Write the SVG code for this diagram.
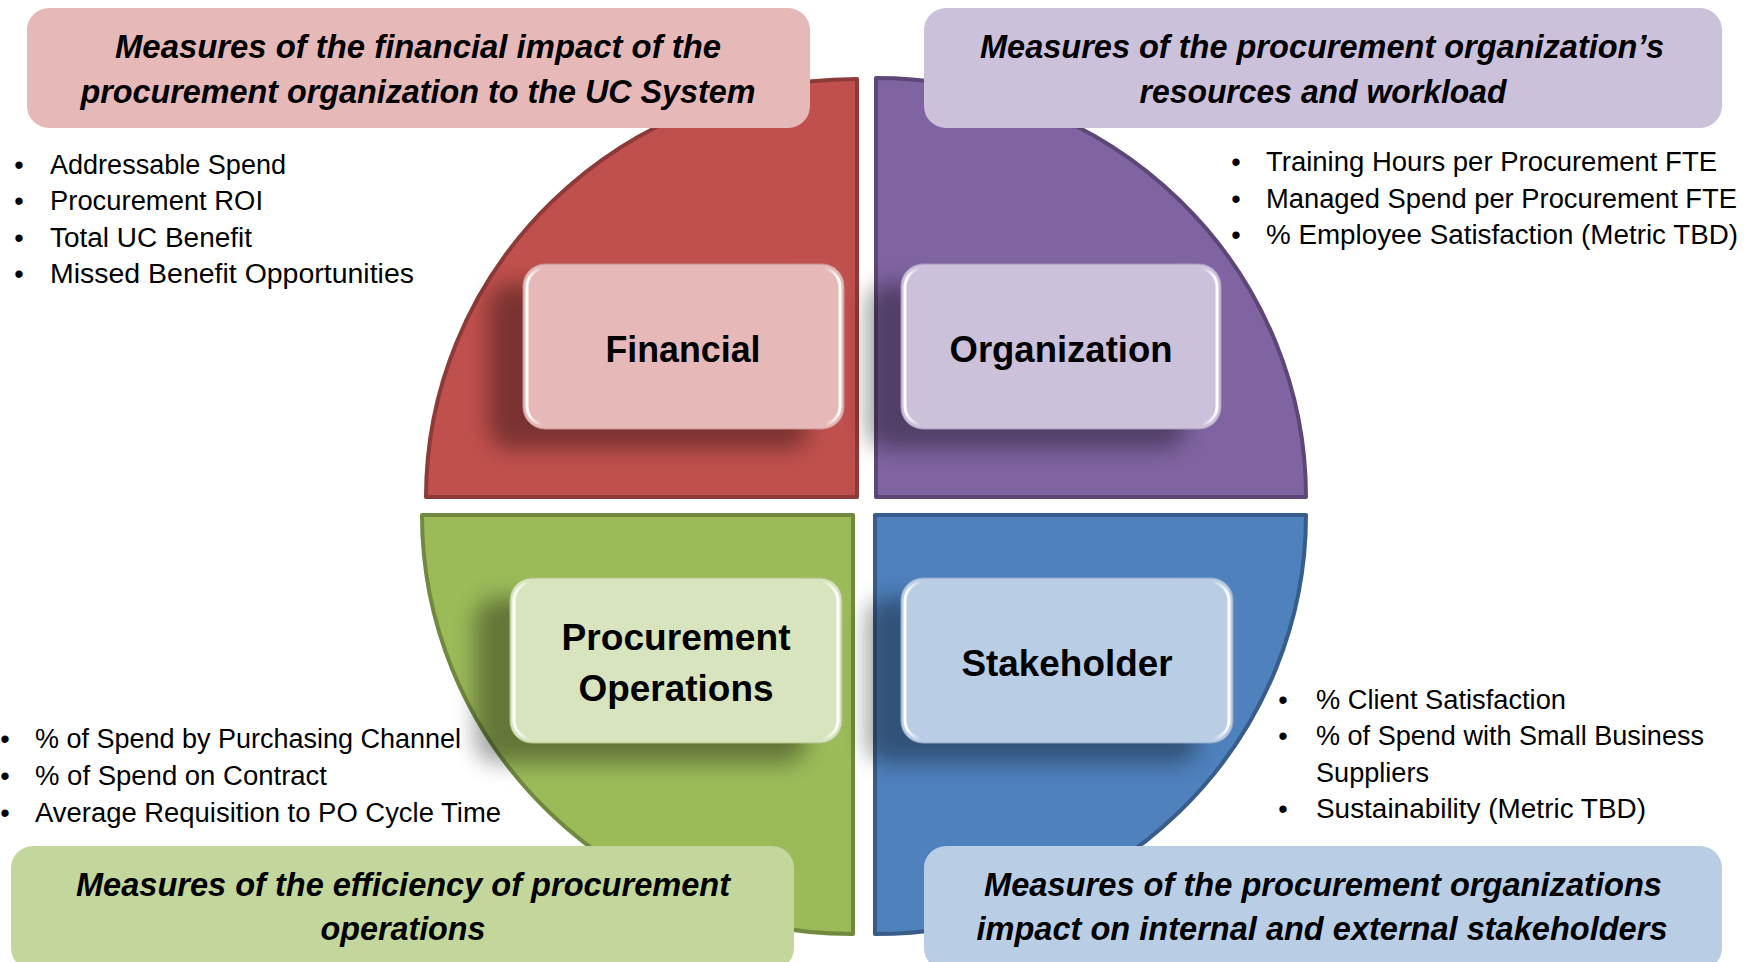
<svg xmlns="http://www.w3.org/2000/svg" width="1756" height="962" viewBox="0 0 1756 962">
<style>
.title{font-family:"Liberation Sans",Arial,sans-serif;font-weight:bold;font-style:italic;font-size:33px;fill:#000;text-anchor:middle}
.label{font-family:"Liberation Sans",Arial,sans-serif;font-weight:bold;font-size:37px;fill:#000;text-anchor:middle}
.bul{font-family:"Liberation Sans",Arial,sans-serif;font-size:27px;fill:#000}
.dot{font-family:"Liberation Sans",Arial,sans-serif;font-size:27px;fill:#000;text-anchor:middle}
.q{stroke-width:4;stroke-linejoin:round}
.shadow{fill:#000;opacity:0.36;filter:url(#blur)}
.hl{fill:none;stroke:url(#hlg);stroke-width:3}
</style>
<defs>
<filter id="blur" x="-40%" y="-40%" width="180%" height="180%"><feGaussianBlur stdDeviation="11"/></filter>
<linearGradient id="hlg" x1="0" y1="0" x2="1" y2="0">
<stop offset="0" stop-color="#fff" stop-opacity="1"/>
<stop offset="0.05" stop-color="#fff" stop-opacity="0"/>
<stop offset="0.95" stop-color="#fff" stop-opacity="0"/>
<stop offset="1" stop-color="#fff" stop-opacity="1"/>
</linearGradient>
</defs>
<rect width="1756" height="962" fill="#fff"/>

<g id="financial">
<path class="q" d="M857,79 L857,497 L426,497 A431,418 0 0 1 857,79 Z" fill="#C0504D" stroke="#8E3A38"/>
<rect class="shadow" x="488" y="284" width="321" height="165" rx="22"/>
<rect x="523" y="264" width="321" height="165" rx="22" fill="#E6B9B8" stroke="#C99190" stroke-width="1"/>
<rect class="hl" x="527" y="268" width="313" height="157" rx="19"/>
<text class="label" x="683" y="362" textLength="155" lengthAdjust="spacingAndGlyphs">Financial</text>
</g>

<g id="organization">
<path class="q" d="M876,78 A430,419 0 0 1 1306,497 L876,497 Z" fill="#8064A2" stroke="#5C4776"/>
<rect class="shadow" x="866" y="284" width="320" height="165" rx="22"/>
<rect x="901" y="264" width="320" height="165" rx="22" fill="#CCC1DA" stroke="#A899BC" stroke-width="1"/>
<rect class="hl" x="905" y="268" width="312" height="157" rx="19"/>
<text class="label" x="1061" y="362" textLength="223" lengthAdjust="spacingAndGlyphs">Organization</text>
</g>

<g id="procurement-operations">
<path class="q" d="M422,515 L853,515 L853,934 A431,419 0 0 1 422,515 Z" fill="#9BBB59" stroke="#71893F"/>
<rect class="shadow" x="475" y="598" width="332" height="165" rx="22"/>
<rect x="510" y="578" width="332" height="165" rx="22" fill="#D7E4BD" stroke="#AFC38A" stroke-width="1"/>
<rect class="hl" x="514" y="582" width="324" height="157" rx="19"/>
<text class="label" x="676" y="650" textLength="229" lengthAdjust="spacingAndGlyphs">Procurement</text>
<text class="label" x="676" y="701" textLength="195" lengthAdjust="spacingAndGlyphs">Operations</text>
</g>

<g id="stakeholder">
<path class="q" d="M875,515 L1306,515 A431,419 0 0 1 875,934 Z" fill="#4F81BD" stroke="#385D8A"/>
<rect class="shadow" x="866" y="598" width="332" height="165" rx="22"/>
<rect x="901" y="578" width="332" height="165" rx="22" fill="#B9CDE5" stroke="#8FA8C8" stroke-width="1"/>
<rect class="hl" x="905" y="582" width="324" height="157" rx="19"/>
<text class="label" x="1067" y="676" textLength="211" lengthAdjust="spacingAndGlyphs">Stakeholder</text>
</g>

<g id="title-financial">
<rect x="27" y="8" width="783" height="120" rx="22" fill="#E6B9B8"/>
<text class="title" x="418" y="58" textLength="606" lengthAdjust="spacingAndGlyphs">Measures of the financial impact of the</text>
<text class="title" x="418" y="103" textLength="675" lengthAdjust="spacingAndGlyphs">procurement organization to the UC System</text>
</g>

<g id="title-organization">
<rect x="924" y="8" width="798" height="120" rx="22" fill="#CCC1DA"/>
<text class="title" x="1322" y="58" textLength="684" lengthAdjust="spacingAndGlyphs">Measures of the procurement organization’s</text>
<text class="title" x="1323" y="103" textLength="367" lengthAdjust="spacingAndGlyphs">resources and workload</text>
</g>

<g id="title-operations">
<rect x="11" y="846" width="783" height="124" rx="22" fill="#C3D69B"/>
<text class="title" x="403" y="896" textLength="654" lengthAdjust="spacingAndGlyphs">Measures of the efficiency of procurement</text>
<text class="title" x="403" y="940" textLength="165" lengthAdjust="spacingAndGlyphs">operations</text>
</g>

<g id="title-stakeholder">
<rect x="924" y="846" width="798" height="124" rx="22" fill="#B9CDE5"/>
<text class="title" x="1323" y="896" textLength="678" lengthAdjust="spacingAndGlyphs">Measures of the procurement organizations</text>
<text class="title" x="1322" y="940" textLength="691" lengthAdjust="spacingAndGlyphs">impact on internal and external stakeholders</text>
</g>

<g id="bullets-financial">
<text class="dot" x="19" y="174">•</text><text class="bul" x="50" y="174" textLength="236" lengthAdjust="spacingAndGlyphs">Addressable Spend</text>
<text class="dot" x="19" y="210">•</text><text class="bul" x="50" y="210" textLength="213" lengthAdjust="spacingAndGlyphs">Procurement ROI</text>
<text class="dot" x="19" y="247">•</text><text class="bul" x="50" y="247" textLength="202" lengthAdjust="spacingAndGlyphs">Total UC Benefit</text>
<text class="dot" x="19" y="283">•</text><text class="bul" x="50" y="283" textLength="364" lengthAdjust="spacingAndGlyphs">Missed Benefit Opportunities</text>
</g>

<g id="bullets-organization">
<text class="dot" x="1236" y="171">•</text><text class="bul" x="1266" y="171" textLength="451" lengthAdjust="spacingAndGlyphs">Training Hours per Procurement FTE</text>
<text class="dot" x="1236" y="208">•</text><text class="bul" x="1266" y="208" textLength="471" lengthAdjust="spacingAndGlyphs">Managed Spend per Procurement FTE</text>
<text class="dot" x="1236" y="244">•</text><text class="bul" x="1266" y="244" textLength="472" lengthAdjust="spacingAndGlyphs">% Employee Satisfaction (Metric TBD)</text>
</g>

<g id="bullets-operations">
<text class="dot" x="5" y="748">•</text><text class="bul" x="35" y="748" textLength="426" lengthAdjust="spacingAndGlyphs">% of Spend by Purchasing Channel</text>
<text class="dot" x="5" y="785">•</text><text class="bul" x="35" y="785" textLength="292" lengthAdjust="spacingAndGlyphs">% of Spend on Contract</text>
<text class="dot" x="5" y="822">•</text><text class="bul" x="35" y="822" textLength="466" lengthAdjust="spacingAndGlyphs">Average Requisition to PO Cycle Time</text>
</g>

<g id="bullets-stakeholder">
<text class="dot" x="1283" y="709">•</text><text class="bul" x="1316" y="709" textLength="250" lengthAdjust="spacingAndGlyphs">% Client Satisfaction</text>
<text class="dot" x="1283" y="745">•</text><text class="bul" x="1316" y="745" textLength="388" lengthAdjust="spacingAndGlyphs">% of Spend with Small Business</text>
<text class="bul" x="1316" y="782" textLength="113" lengthAdjust="spacingAndGlyphs">Suppliers</text>
<text class="dot" x="1283" y="818">•</text><text class="bul" x="1316" y="818" textLength="330" lengthAdjust="spacingAndGlyphs">Sustainability (Metric TBD)</text>
</g>

<g id="connectors"></g>
</svg>
